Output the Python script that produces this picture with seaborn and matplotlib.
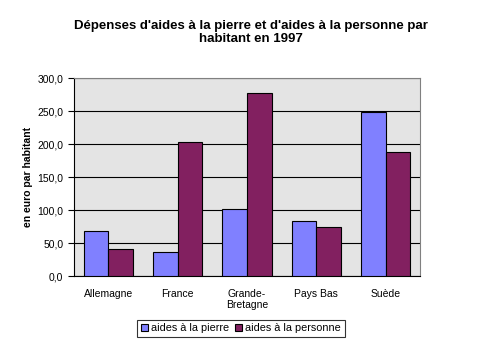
import numpy as np
import pandas as pd
import matplotlib
matplotlib.use("Agg")
import matplotlib.pyplot as plt
import seaborn as sns
from matplotlib.ticker import FuncFormatter, FixedLocator

pays = ["Allemagne", "France", "Grande-\nBretagne", "Pays Bas", "Suède"]
aides_pierre = [68, 36, 101, 83, 248]
aides_personne = [41, 203, 277, 74, 188]
series = ["aides à la pierre", "aides à la personne"]
couleurs = ["#8080FF", "#822060"]

df = pd.DataFrame({
    "pays": pays * 2,
    "valeur": aides_pierre + aides_personne,
    "serie": [series[0]] * len(pays) + [series[1]] * len(pays),
})

sns.set_style("white")
plt.rcParams["font.family"] = ["Liberation Sans", "DejaVu Sans"]
plt.rcParams["text.color"] = "black"
plt.rcParams["axes.labelcolor"] = "black"
plt.rcParams["xtick.color"] = "black"
plt.rcParams["ytick.color"] = "black"

fig = plt.figure(figsize=(5.02, 3.55), dpi=100)
ax = fig.add_axes([0.147, 0.2225, 0.69, 0.5575])
ax.set_facecolor("#E4E4E4")

sns.barplot(data=df, x="pays", y="valeur", hue="serie", palette=couleurs,
            width=0.71, edgecolor="black", linewidth=0.8, saturation=1,
            ax=ax, legend=True, zorder=3)

ax.set_ylim(0, 300)
ax.set_xlim(-0.5, len(pays) - 0.5)
ax.set_yticks(np.arange(0, 301, 50))
ax.yaxis.set_major_formatter(FuncFormatter(lambda v, p: f"{v:.1f}".replace(".", ",")))
ax.yaxis.grid(True, color="black", linewidth=0.8, zorder=1)
ax.set_axisbelow(True)

ax.xaxis.set_minor_locator(FixedLocator(np.arange(-0.5, len(pays), 1.0)))
ax.tick_params(axis="x", which="major", length=0, labelsize=7.5, pad=9)
ax.tick_params(axis="x", which="minor", length=4, width=0.8, color="black", direction="out")
ax.tick_params(axis="y", which="major", length=4, width=0.8, color="black",
               direction="out", labelsize=7.5, left=True)

for s in ["top", "right"]:
    ax.spines[s].set_color("#808080")
    ax.spines[s].set_linewidth(0.8)
for s in ["left", "bottom"]:
    ax.spines[s].set_color("black")
    ax.spines[s].set_linewidth(0.8)

ax.set_xlabel("")
ax.set_ylabel("en euro par habitant", fontsize=7.5, fontweight="bold", labelpad=3)

handles, labels = ax.get_legend_handles_labels()
ax.get_legend().remove()
leg = fig.legend(handles, labels, loc="center", bbox_to_anchor=(0.48, 0.075), ncol=2,
                 frameon=True, fancybox=False, edgecolor="black", fontsize=7.8,
                 handlelength=0.6, handleheight=0.6, handletextpad=0.3,
                 columnspacing=0.6, borderpad=0.35, borderaxespad=0)
leg.get_frame().set_linewidth(0.8)

fig.suptitle("Dépenses d'aides à la pierre et d'aides à la personne par\nhabitant en 1997",
             fontsize=9.5, fontweight="bold", y=0.945, x=0.5)

fig.savefig("out.png", dpi=100)
